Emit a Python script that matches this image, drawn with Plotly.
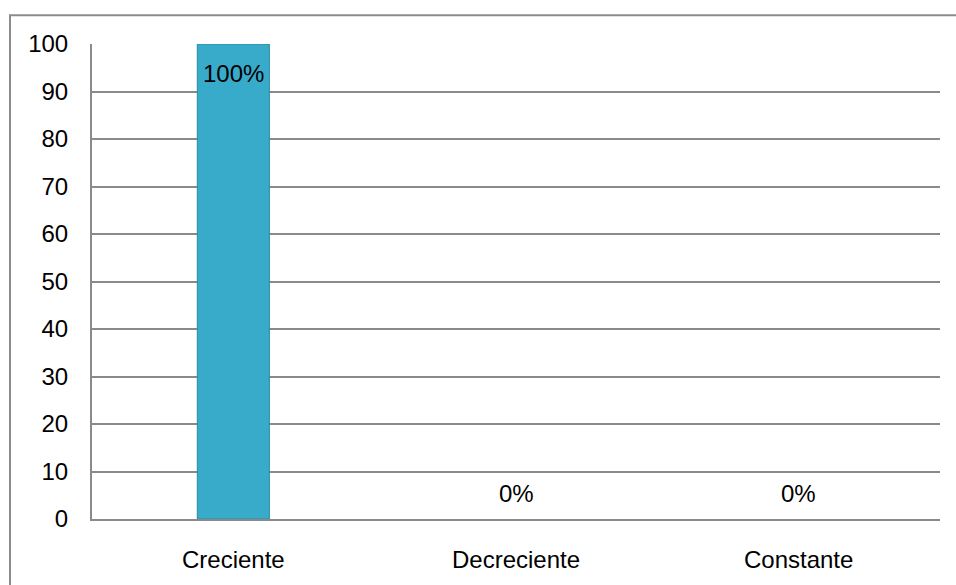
import plotly.graph_objects as go

categories = ["Creciente", "Decreciente", "Constante"]
values = [100, 0, 0]
labels = ["100%", "0%", "0%"]
y_ticks = [0, 10, 20, 30, 40, 50, 60, 70, 80, 90, 100]

FONT = "Liberation Sans, Arial, sans-serif"
GRID = "#8a8a8a"

fig = go.Figure()
fig.add_trace(go.Bar(
    x=categories, y=values,
    marker=dict(color="#38abcb",
                line=dict(color="#2c8aa3", width=[1 if v > 0 else 0 for v in values])),
    width=0.255,
    hoverinfo="x+y",
))

for c, v, t in zip(categories, values, labels):
    if v > 0:
        fig.add_annotation(x=c, y=v, text=t, showarrow=False, yanchor="top",
                           yshift=-14, font=dict(family=FONT, size=24, color="#000"))
    else:
        fig.add_annotation(x=c, y=v, text=t, showarrow=False, yanchor="bottom",
                           yshift=10, font=dict(family=FONT, size=24, color="#000"))

# outer chart border
fig.add_shape(type="rect", xref="paper", yref="paper",
              x0=-82/848, x1=1.2, y0=-0.3, y1=(522-15)/478,
              line=dict(color="#8c8c8c", width=2), layer="below")

fig.update_layout(
    width=956, height=585,
    margin=dict(l=92, r=16, t=44, b=63),
    paper_bgcolor="white", plot_bgcolor="white",
    showlegend=False,
    font=dict(family=FONT, size=24, color="#000"),
    bargap=0.745,
)
fig.update_xaxes(showgrid=False, showline=True, linecolor=GRID, linewidth=2,
                 ticks="", ticklabelstandoff=18, mirror=False)
fig.update_yaxes(range=[0, 100], tickvals=y_ticks, showgrid=True, gridcolor=GRID,
                 gridwidth=2, showline=True, linecolor=GRID, linewidth=2,
                 ticks="", ticklabelstandoff=17, zeroline=False)

fig.write_html("out.html")
